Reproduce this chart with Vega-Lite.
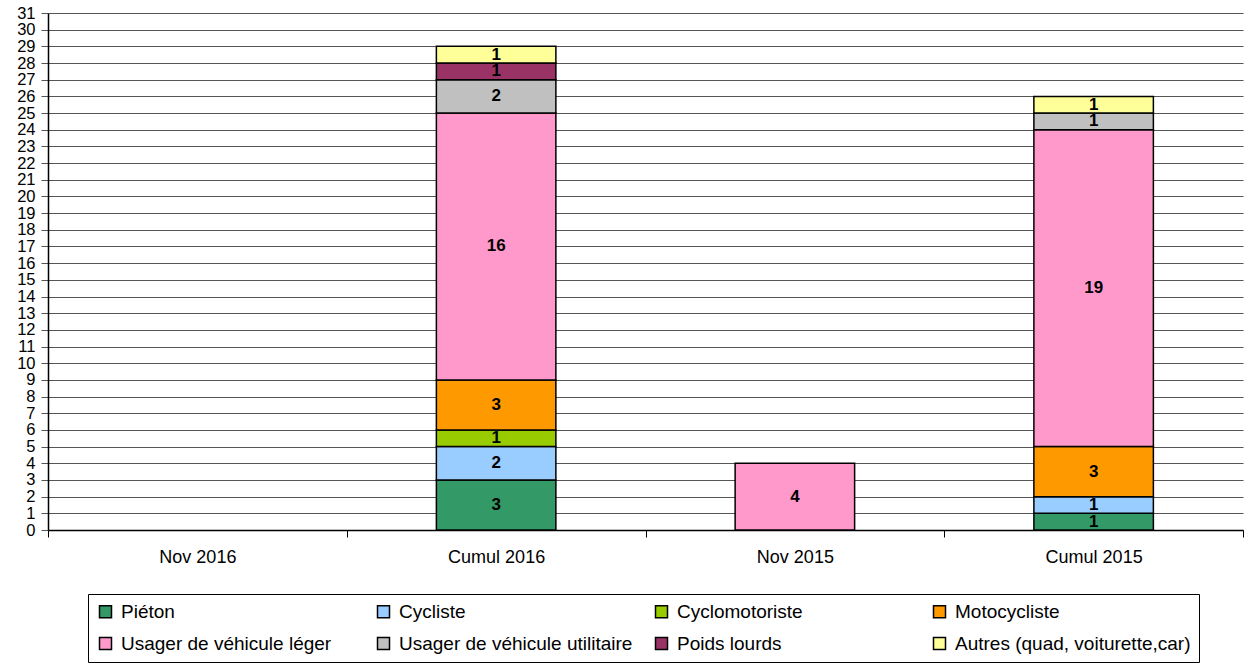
{
  "$schema": "https://vega.github.io/schema/vega-lite/v6.json",
  "width": 1195,
  "height": 517,
  "autosize": "none",
  "padding": {"left": 48, "top": 13, "right": 1, "bottom": 133},
  "background": "white",
  "config": {
    "font": "Liberation Sans",
    "view": {"stroke": null}
  },
  "data": {
    "values": [
      {"cat": "Cumul 2016", "type": "Piéton", "k": 1, "n": 3},
      {"cat": "Cumul 2016", "type": "Cycliste", "k": 2, "n": 2},
      {"cat": "Cumul 2016", "type": "Cyclomotoriste", "k": 3, "n": 1},
      {"cat": "Cumul 2016", "type": "Motocycliste", "k": 4, "n": 3},
      {"cat": "Cumul 2016", "type": "Usager de véhicule léger", "k": 5, "n": 16},
      {"cat": "Cumul 2016", "type": "Usager de véhicule utilitaire", "k": 6, "n": 2},
      {"cat": "Cumul 2016", "type": "Poids lourds", "k": 7, "n": 1},
      {"cat": "Cumul 2016", "type": "Autres (quad, voiturette,car)", "k": 8, "n": 1},
      {"cat": "Nov 2015", "type": "Usager de véhicule léger", "k": 5, "n": 4},
      {"cat": "Cumul 2015", "type": "Piéton", "k": 1, "n": 1},
      {"cat": "Cumul 2015", "type": "Cycliste", "k": 2, "n": 1},
      {"cat": "Cumul 2015", "type": "Motocycliste", "k": 4, "n": 3},
      {"cat": "Cumul 2015", "type": "Usager de véhicule léger", "k": 5, "n": 19},
      {"cat": "Cumul 2015", "type": "Usager de véhicule utilitaire", "k": 6, "n": 1},
      {"cat": "Cumul 2015", "type": "Autres (quad, voiturette,car)", "k": 8, "n": 1}
    ]
  },
  "transform": [
    {"stack": "n", "groupby": ["cat"], "sort": [{"field": "k", "order": "ascending"}], "as": ["y0", "y1"]},
    {"calculate": "(datum.y0 + datum.y1) / 2", "as": "ym"}
  ],
  "encoding": {
    "x": {
      "field": "cat",
      "type": "nominal",
      "sort": ["Nov 2016", "Cumul 2016", "Nov 2015", "Cumul 2015"],
      "scale": {"domain": ["Nov 2016", "Cumul 2016", "Nov 2015", "Cumul 2015"], "paddingInner": 0, "paddingOuter": 0},
      "axis": {
        "title": null,
        "labelAngle": 0,
        "labelFontSize": 18,
        "labelColor": "black",
        "labelPadding": 11,
        "domainColor": "black",
        "domainWidth": 1.5,
        "tickColor": "black",
        "tickSize": 7,
        "tickBand": "extent",
        "grid": false
      }
    }
  },
  "layer": [
    {
      "mark": {"type": "bar", "stroke": "black", "strokeWidth": 1.5, "width": {"band": 0.4}},
      "encoding": {
        "y": {
          "field": "y0",
          "type": "quantitative",
          "scale": {"domain": [0, 31], "nice": false},
          "axis": {
            "title": null,
            "values": [0,1,2,3,4,5,6,7,8,9,10,11,12,13,14,15,16,17,18,19,20,21,22,23,24,25,26,27,28,29,30,31],
            "labelFontSize": 16.5,
            "labelColor": "black",
            "labelPadding": 6,
            "labelFlush": false,
            "labelOverlap": false,
            "tickSize": 7,
            "tickColor": "#555",
            "domainColor": "black",
            "domainWidth": 1.5,
            "grid": true,
            "gridColor": "#555",
            "gridWidth": 1
          }
        },
        "y2": {"field": "y1"},
        "color": {
          "field": "type",
          "type": "nominal",
          "scale": {
            "domain": ["Piéton", "Cycliste", "Cyclomotoriste", "Motocycliste", "Usager de véhicule léger", "Usager de véhicule utilitaire", "Poids lourds", "Autres (quad, voiturette,car)"],
            "range": ["#339966", "#99CCFF", "#99CC00", "#FF9900", "#FF99CC", "#C0C0C0", "#993366", "#FFFF99"]
          },
          "legend": {
            "title": null,
            "orient": "none",
            "legendX": 40,
            "legendY": 581,
            "direction": "horizontal",
            "columns": 4,
            "gridAlign": "all",
            "columnPadding": 17,
            "rowPadding": 12,
            "padding": 8,
            "strokeColor": "black",
            "fillColor": "white",
            "symbolType": "square",
            "symbolSize": 144,
            "symbolStrokeColor": "black",
            "symbolStrokeWidth": 1.5,
            "symbolOpacity": 1,
            "labelFontSize": 19,
            "labelColor": "black",
            "labelLimit": 400,
            "labelOffset": 6
          }
        }
      }
    },
    {
      "mark": {"type": "text", "fontSize": 17, "fontWeight": "bold", "color": "black", "baseline": "middle", "align": "center"},
      "encoding": {
        "y": {
          "field": "ym",
          "type": "quantitative",
          "axis": {
            "title": null,
            "values": [0,1,2,3,4,5,6,7,8,9,10,11,12,13,14,15,16,17,18,19,20,21,22,23,24,25,26,27,28,29,30,31],
            "labelFontSize": 16.5,
            "labelColor": "black",
            "labelPadding": 6,
            "labelFlush": false,
            "labelOverlap": false,
            "tickSize": 7,
            "tickColor": "#555",
            "domainColor": "black",
            "domainWidth": 1.5,
            "grid": true,
            "gridColor": "#555",
            "gridWidth": 1
          }
        },
        "text": {"field": "n", "type": "quantitative"}
      }
    }
  ]
}
